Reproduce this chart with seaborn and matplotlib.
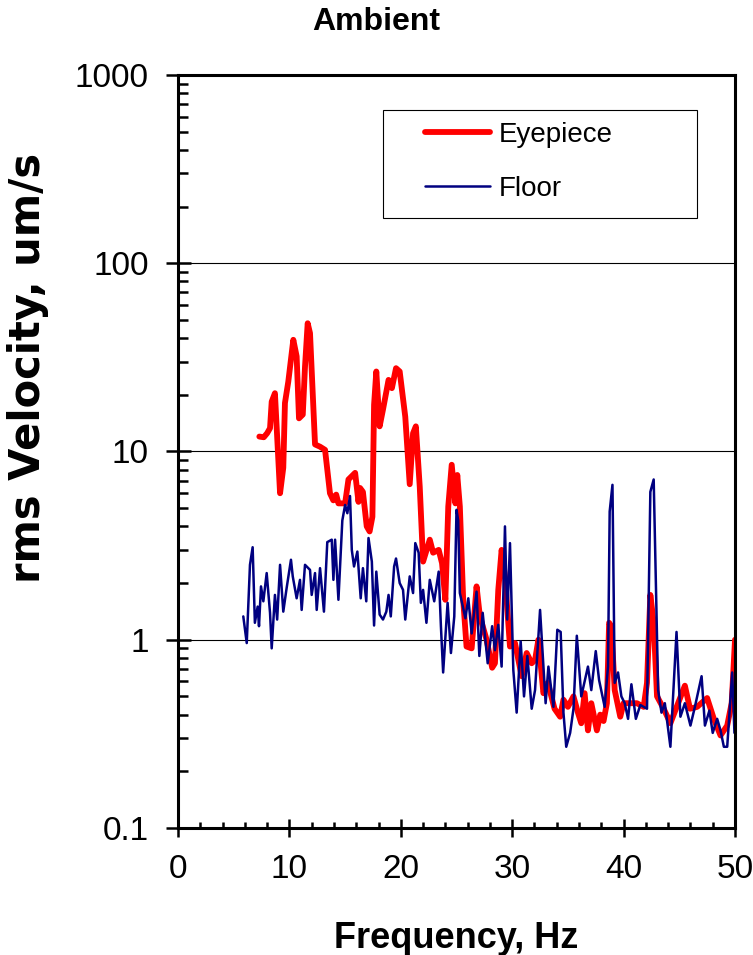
import matplotlib
matplotlib.use("Agg")
import matplotlib.pyplot as plt
import matplotlib.ticker as mticker
from matplotlib.patches import Rectangle
import seaborn as sns
import pandas as pd

# Eyepiece spectrum
eye_freq = [7.3, 7.7, 8.0, 8.26, 8.41, 8.7, 9.16, 9.45, 9.6, 9.9, 10.35, 10.65, 10.86, 11.2, 11.4,
            11.64, 11.85, 12.3, 12.75, 13.2, 13.64, 13.94, 14.2, 14.4, 15.0, 15.3, 15.9, 16.2, 16.34,
            16.6, 16.94, 17.2, 17.45, 17.6, 17.8, 18.1, 18.4, 18.9, 19.2, 19.57, 19.9, 20.4, 20.8,
            21.1, 21.35, 21.7, 22.0, 22.6, 22.9, 23.4, 23.7, 24.0, 24.26, 24.57, 24.9, 25.07, 25.3,
            25.6, 25.9, 26.36, 26.8, 27.1, 27.7, 28.2, 28.45, 28.75, 29.05, 29.35, 29.8, 30.25,
            30.85, 31.3, 31.75, 32.05, 32.35, 32.8, 33.2, 33.8, 34.3, 34.6, 35.0, 35.5, 35.9, 36.2,
            36.5, 36.8, 37.1, 37.6, 37.9, 38.2, 38.5, 38.7, 38.9, 39.2, 39.7, 40.0, 40.6, 41.2,
            41.8, 42.1, 42.4, 42.7, 43.0, 43.6, 44.2, 44.7, 45.5, 45.96, 46.6, 47.5, 48.1, 48.7,
            49.3, 49.7, 50.0]
eye_vel = [12.0, 11.9, 12.5, 13.3, 18.4, 20.4, 6.0, 8.2, 18.1, 23.5, 39.2, 32.0, 15.0, 15.7, 28.2,
           48.0, 42.5, 10.9, 10.6, 10.2, 6.0, 5.5, 5.9, 5.3, 5.3, 7.1, 7.7, 5.4, 6.4,
           6.1, 4.0, 3.76, 4.5, 17.7, 26.6, 13.6, 16.7, 24.0, 21.7, 27.7, 26.6, 15.3, 6.7,
           12.5, 13.6, 6.5, 2.6, 3.4, 2.9, 3.0, 2.55, 1.63, 5.1, 8.5, 5.3, 7.5, 5.1,
           1.63, 0.92, 0.9, 1.92, 1.33, 1.0, 0.71, 0.75, 1.84, 3.0, 2.17, 0.92, 0.96,
           0.64, 0.85, 0.75, 0.78, 1.0, 0.52, 0.59, 0.43, 0.39, 0.48, 0.44, 0.50, 0.41, 0.36,
           0.52, 0.33, 0.46, 0.33, 0.40, 0.37, 0.46, 1.23, 1.18, 0.54, 0.39, 0.46, 0.46, 0.46,
           0.44, 0.59, 1.73, 1.23, 0.50, 0.43, 0.36, 0.43, 0.57, 0.43, 0.44, 0.49, 0.38, 0.31,
           0.35, 0.46, 1.0]

# Floor spectrum
floor_freq = [5.86, 6.17, 6.46, 6.7, 6.9, 7.15, 7.27, 7.45, 7.66, 7.96, 8.26, 8.41, 8.7, 8.9, 9.16,
              9.45, 9.75, 10.14, 10.3, 10.65, 10.95, 11.1, 11.4, 11.85, 12.0, 12.3, 12.45, 12.75,
              13.1, 13.4, 13.8, 13.95, 14.1, 14.4, 14.75, 15.0, 15.2, 15.44, 15.6, 15.8, 16.1,
              16.4, 16.6, 16.9, 17.1, 17.4, 17.6, 17.8, 18.1, 18.4, 18.7, 18.9, 19.1, 19.4,
              19.57, 19.9, 20.2, 20.4, 20.8, 21.1, 21.3, 21.6, 21.8, 22.0, 22.3, 22.6, 23.0,
              23.4, 23.6, 23.8, 24.2, 24.5, 24.8, 25.0, 25.15, 25.3, 25.8, 26.06, 26.36, 26.8,
              27.05, 27.35, 27.8, 28.2, 28.45, 28.75, 29.05, 29.35, 29.55, 29.8, 30.1, 30.4,
              30.76, 31.06, 31.36, 31.75, 32.05, 32.5, 33.0, 33.25, 33.7, 34.05, 34.35, 34.6,
              34.85, 35.2, 35.5, 35.8, 36.2, 36.8, 37.1, 37.5, 37.8, 38.3, 38.6, 38.75, 39.0,
              39.2, 39.5, 39.8, 40.1, 40.4, 40.7, 41.1, 41.5, 42.1, 42.4, 42.7, 42.9, 43.1,
              43.4, 43.7, 44.2, 44.75, 45.1, 45.5, 46.0, 46.4, 47.0, 47.3, 47.7, 48.0, 48.4,
              48.7, 49.0, 49.3, 49.6, 49.75, 49.95]
floor_vel = [1.33, 0.96, 2.5, 3.1, 1.23, 1.5, 1.18, 1.92, 1.6, 2.26, 1.39, 0.9, 1.73, 1.28, 2.5,
             1.41, 1.88, 2.66, 2.17, 1.66, 2.08, 1.44, 2.5, 2.35, 1.73, 2.26, 1.44, 2.4,
             1.41, 3.3, 3.4, 2.08, 3.4, 1.63, 4.3, 5.2, 4.7, 5.8, 3.0, 2.45, 2.94,
             1.66, 2.4, 1.6, 3.47, 2.6, 1.19, 2.3, 1.36, 1.28, 1.41, 1.73, 1.33, 2.45,
             2.7, 2.0, 1.84, 1.28, 2.17, 1.77, 3.26, 2.9, 1.57, 1.84, 1.23, 2.08, 1.6,
             2.3, 1.18, 0.67, 1.57, 0.85, 1.33, 4.9, 4.3, 1.77, 1.3, 1.66, 1.08, 1.8,
             0.82, 1.39, 0.75, 1.18, 0.88, 1.2, 0.72, 4.0, 1.28, 3.26, 0.69, 0.41,
             0.98, 0.5, 0.82, 0.43, 0.54, 1.44, 0.46, 0.72, 0.44, 1.13, 1.1, 0.41,
             0.27, 0.32, 0.43, 1.05, 0.5, 0.72, 0.54, 0.87, 0.61, 0.44, 0.72, 4.8, 6.65,
             0.59, 0.67, 0.5, 0.46, 0.38, 0.58, 0.38, 0.45, 0.43, 6.1, 7.1, 2.0, 0.54,
             0.41, 0.46, 0.27, 1.1, 0.39, 0.46, 0.35, 0.44, 0.64, 0.35, 0.42, 0.32, 0.38,
             0.33, 0.27, 0.27, 0.5, 0.67, 0.32]

y_ticks = [0.1, 1, 10, 100, 1000]
x_ticks = [0, 10, 20, 30, 40, 50]

eye = pd.DataFrame({"Frequency": eye_freq, "Velocity": eye_vel})
floor = pd.DataFrame({"Frequency": floor_freq, "Velocity": floor_vel})

sns.set_style("white")
plt.rcParams["font.family"] = ["Liberation Sans", "DejaVu Sans"]
plt.rcParams.update({"text.color": "black", "axes.labelcolor": "black",
                     "xtick.color": "black", "ytick.color": "black"})

fig = plt.figure(figsize=(7.53, 9.55), dpi=100)
ax = fig.add_axes([0.2364, 0.1330, 0.7397, 0.7885])

sns.lineplot(data=eye, x="Frequency", y="Velocity", color="#FF0000", linewidth=4.2,
             label="Eyepiece", ax=ax, sort=False)
sns.lineplot(data=floor, x="Frequency", y="Velocity", color="#000080", linewidth=1.8,
             label="Floor", ax=ax, sort=False)

ax.set_yscale("log")
ax.set_ylim(0.1, 1000)
ax.set_xlim(0, 50)
ax.set_yticks(y_ticks)
ax.yaxis.set_major_formatter(mticker.FuncFormatter(lambda v, p: f"{v:g}"))
ax.yaxis.set_minor_locator(mticker.LogLocator(base=10, subs=range(2, 10)))
ax.yaxis.set_minor_formatter(mticker.NullFormatter())
ax.set_xticks(x_ticks)
ax.xaxis.set_minor_locator(mticker.MultipleLocator(2))

for y in y_ticks[1:-1]:
    ax.axhline(y, color="black", linewidth=0.8, zorder=0)

for s in ax.spines.values():
    s.set_color("black")
    s.set_linewidth(2.2)

ax.tick_params(axis="x", which="major", direction="inout", length=13, width=1.8,
               labelsize=24, pad=12, bottom=True)
ax.tick_params(axis="x", which="minor", direction="in", length=4.5, width=1.8, bottom=True)
ax.tick_params(axis="y", which="major", direction="inout", length=18, width=1.8,
               labelsize=24, pad=12, left=True)
ax.tick_params(axis="y", which="minor", direction="in", length=7, width=1.8, left=True)

ax.set_xlabel("Frequency, Hz", fontsize=26, fontweight="bold", labelpad=26)
ax.set_ylabel("rms Velocity, um/s", fontsize=30, fontweight="bold",
              family=["DejaVu Sans"])
ax.yaxis.set_label_coords(-0.231, 0.611)
fig.text(0.5, 1 - 22 / 955, "Ambient", ha="center", va="center", fontsize=23, fontweight="bold")

# legend with a plain square frame
ax.add_patch(Rectangle((0.368, 0.810), 0.564, 0.1434, transform=ax.transAxes,
                       fill=True, facecolor="white", edgecolor="black", linewidth=0.8, zorder=4))
leg = ax.legend(loc="center left", bbox_to_anchor=(0.4434, 0.8845), frameon=False,
                fontsize=20, handlelength=2.35, handletextpad=0.3, labelspacing=1.0,
                borderpad=0, borderaxespad=0)
leg.set_zorder(5)

fig.savefig("out.png", dpi=100)
